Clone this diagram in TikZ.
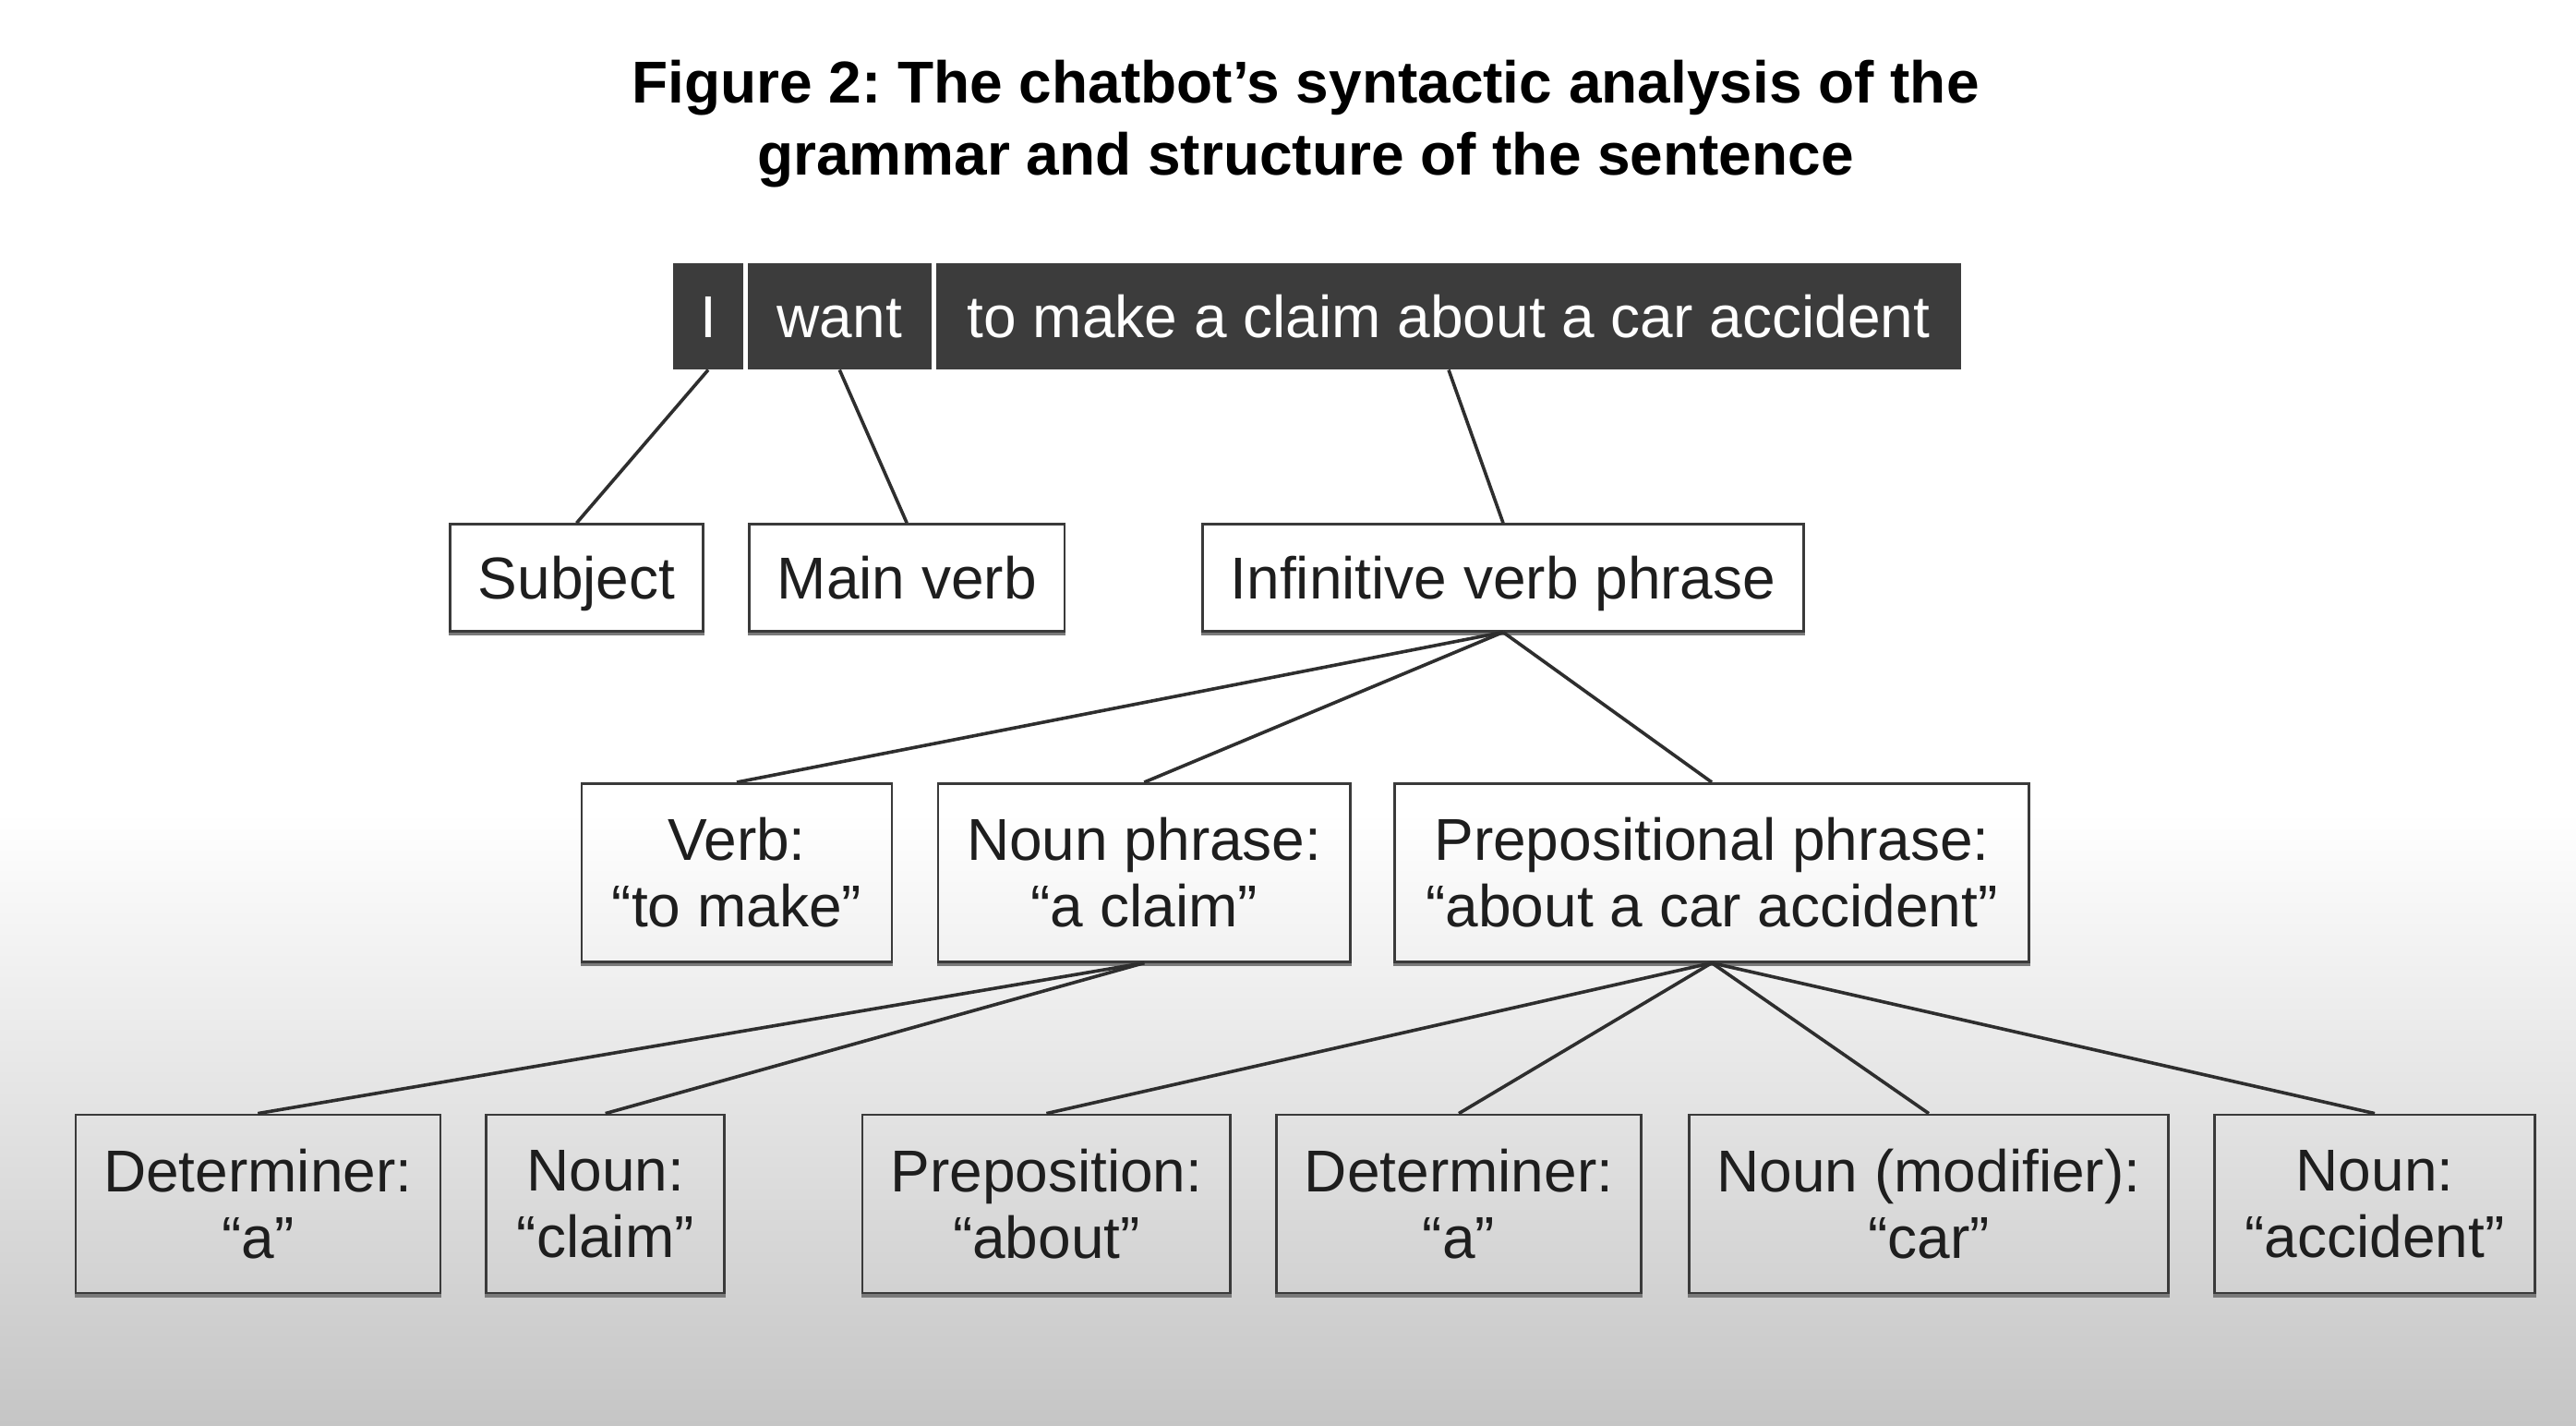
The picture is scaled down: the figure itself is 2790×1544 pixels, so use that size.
\documentclass[tikz,border=0pt]{standalone}
\usepackage{fontspec}
\setmainfont{Liberation Sans}
\frenchspacing
\definecolor{barc}{HTML}{3C3C3C}
\definecolor{boxc}{HTML}{3A3A3A}
\definecolor{linec}{HTML}{2E2E2E}
\definecolor{txtc}{HTML}{1E1E1E}
\definecolor{bgbot}{HTML}{C5C5C5}
\definecolor{shadc}{HTML}{7A7A7A}
\newcommand{\boxfont}{\fontsize{64}{72}\selectfont}
\begin{document}
\begin{tikzpicture}[x=1pt,y=-1pt,
  titletext/.style={align=center,font=\fontsize{64}{78}\selectfont\bfseries,text=black,inner sep=0pt},
  seg/.style={fill=barc,text=white,inner sep=0pt,font=\boxfont,text height=46pt,text depth=0pt,minimum height=115.6pt},
  shadowline/.style={draw=shadc,line width=3.5pt},
  box/.style={draw=boxc,line width=2.6pt,inner sep=0pt,align=center,text=txtc,font=\boxfont,
    append after command={([yshift=-2pt]\tikzlastnode.south west) edge[shadowline] ([yshift=-2pt]\tikzlastnode.south east)}},
  boxone/.style={box,text height=46pt,text depth=0pt,minimum height=115.6pt},
  boxtwo/.style={box,minimum height=193pt},
  conn/.style={draw=linec,line width=3.6pt}
]
\useasboundingbox (0,0) rectangle (2790,1544);
\fill[white] (0,0) rectangle (2790,880);
\shade[top color=white,bottom color=bgbot] (0,880) rectangle (2790,1544);

% title
\node[titletext] (title) at (1414,134) {Figure 2: The chatbot’s syntactic analysis of the\\grammar and structure of the sentence};

% sentence bar
\node[seg,minimum width=75.5pt] (sI) at (767,342.5) {I};
\node[seg,minimum width=199.5pt] (sWant) at (909.3,342.5) {want};
\node[seg,minimum width=1110pt] (sRest) at (1569,342.5) {to make a claim about a car accident};

% level 1
\node[boxone,minimum width=274pt] (subj) at (624.5,625.4) {Subject};
\node[boxone,minimum width=341.6pt] (mverb) at (982.2,625.4) {Main verb};
\node[boxone,minimum width=651pt] (ivp) at (1628,625.4) {Infinitive verb phrase};

% level 2
\node[boxtwo,minimum width=336.3pt] (verb) at (798,944.8) {Verb:\\“to make”};
\node[boxtwo,minimum width=446.6pt] (np) at (1239.3,944.8) {Noun phrase:\\“a claim”};
\node[boxtwo,minimum width=686.8pt] (pp) at (1854,944.8) {Prepositional phrase:\\“about a car accident”};

% level 3
\node[boxtwo,minimum width=395pt] (det1) at (279.3,1303.4) {Determiner:\\“a”};
\node[boxtwo,minimum width=258pt] (noun1) at (655.7,1303.4) {Noun:\\“claim”};
\node[boxtwo,minimum width=398.6pt] (prep) at (1133.4,1303.4) {Preposition:\\“about”};
\node[boxtwo,minimum width=395pt] (det2) at (1580,1303.4) {Determiner:\\“a”};
\node[boxtwo,minimum width=519.5pt] (nmod) at (2089,1303.4) {Noun (modifier):\\“car”};
\node[boxtwo,minimum width=347pt] (nacc) at (2572,1303.4) {Noun:\\“accident”};

% connectors
\draw[conn] (sI.south) -- (subj.north);
\draw[conn] (sWant.south) -- (mverb.north);
\draw[conn] (sRest.south) -- (ivp.north);
\draw[conn] (ivp.south) -- (verb.north);
\draw[conn] (ivp.south) -- (np.north);
\draw[conn] (ivp.south) -- (pp.north);
\draw[conn] (np.south) -- (det1.north);
\draw[conn] (np.south) -- (noun1.north);
\draw[conn] (pp.south) -- (prep.north);
\draw[conn] (pp.south) -- (det2.north);
\draw[conn] (pp.south) -- (nmod.north);
\draw[conn] (pp.south) -- (nacc.north);
\end{tikzpicture}
\end{document}
